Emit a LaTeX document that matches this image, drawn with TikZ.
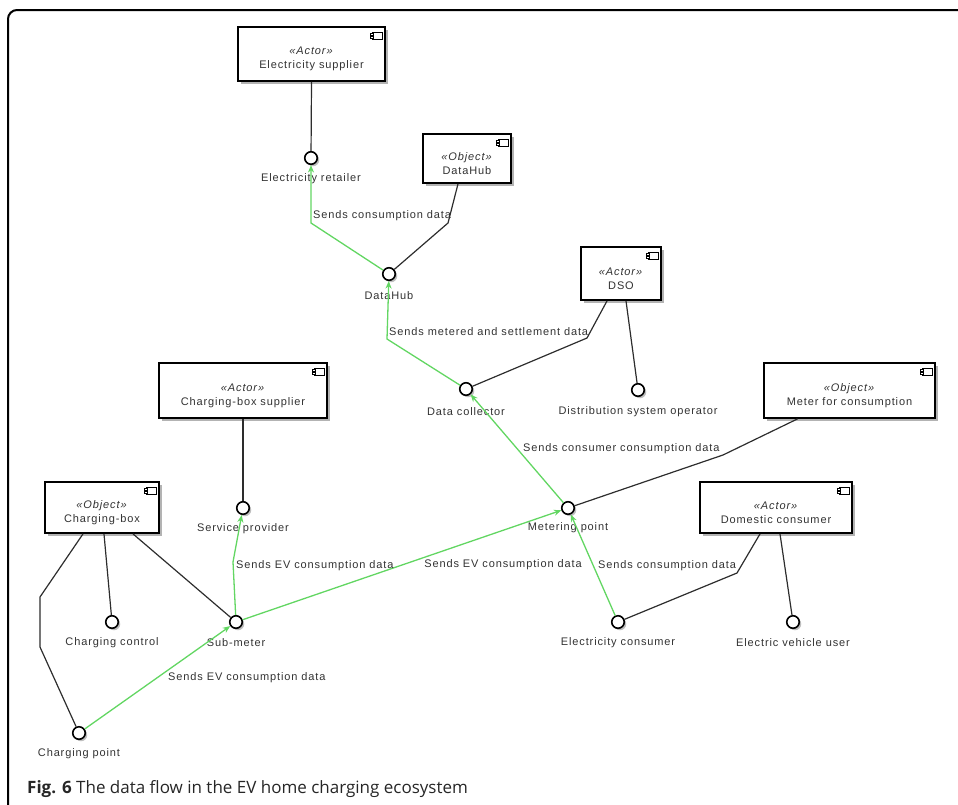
\documentclass[tikz,border=0pt]{standalone}
\usepackage{fontspec}
\setmainfont{Liberation Sans}
\newfontfamily\capfont{Open Sans}
\usetikzlibrary{arrows.meta,calc,fit,shadows}
\definecolor{flowgreen}{RGB}{98,214,98}
\definecolor{txtgray}{RGB}{50,50,50}
\definecolor{linegray}{RGB}{45,45,45}
\tikzset{
  cbox/.style={draw=black, line width=1.8pt, fill=white, inner sep=0pt,
    drop shadow={shadow xshift=2.5pt, shadow yshift=-2.5pt, fill=black!50, opacity=0.6}},
  boxtxt/.style={align=center, font=\fontsize{11}{14}\selectfont\addfontfeature{LetterSpace=8}, text=txtgray, inner sep=0pt},
  icon/.style={line width=1.1pt, draw=black},
  iface/.style={circle, draw=black, line width=1.6pt, fill=white, minimum size=12.5pt, inner sep=0pt,
    drop shadow={shadow xshift=2pt, shadow yshift=-2pt, fill=black!50, opacity=0.5}},
  lbl/.style={font=\fontsize{11}{14}\selectfont\addfontfeature{LetterSpace=8}, text=txtgray, inner sep=0pt},
  conn/.style={draw=linegray, line width=1.2pt},
  flow/.style={draw=flowgreen, line width=1.3pt, -{Stealth[length=7.5pt,width=6pt]}},
}
\newcommand\umlbox[7]{%
  \node[cbox, fit={(#2,#3) (#4,#5)}] (#1) {};
  \node[boxtxt] (#1t) at ($(#1.center)+(0,5)$) {\textit{«#6»}\\#7};
  \draw[icon, fill=white] ($(#1.north east)+(-13,6)$) rectangle ($(#1.north east)+(-3,13)$);
  \draw[icon, fill=white] ($(#1.north east)+(-15,7.3)$) rectangle ($(#1.north east)+(-12,9.3)$);
  \draw[icon, fill=white] ($(#1.north east)+(-15,10.3)$) rectangle ($(#1.north east)+(-12,12.3)$);
}
\begin{document}
\begin{tikzpicture}[x=1pt, y=-1pt]
\useasboundingbox (0,0) rectangle (958,804);
% frame
\draw[line width=2pt, rounded corners=9pt] (962,10) -- (8,10) -- (8,808);
% boxes
\umlbox{es}{238}{27}{385}{81}{Actor}{Electricity supplier}
\umlbox{dhb}{423}{134}{511}{183}{Object}{DataHub}
\umlbox{dsob}{581}{247}{661}{300}{Actor}{DSO}
\umlbox{cbs}{159}{363}{327}{418}{Actor}{Charging-box supplier}
\umlbox{mfc}{764}{363}{935}{418}{Object}{Meter for consumption}
\umlbox{cb}{45}{482}{159}{533}{Object}{Charging-box}
\umlbox{dcb}{700}{482}{852}{533}{Actor}{Domestic consumer}
% interfaces
\node[iface] (er) at (311,158) {};
\node[iface] (dh) at (389,274) {};
\node[iface] (dc) at (466,389) {};
\node[iface] (dso) at (638,390) {};
\node[iface] (sp) at (243,508) {};
\node[iface] (mp) at (568,508) {};
\node[iface] (cc) at (112,622) {};
\node[iface] (sm) at (236,622) {};
\node[iface] (ec) at (618,622) {};
\node[iface] (evu) at (793,622) {};
\node[iface] (cp) at (79,733) {};
% interface labels
\node[lbl] (erl) at (311,179) {Electricity retailer};
\node[lbl] (dhl) at (389,296) {DataHub};
\node[lbl] (dcl) at (466,412) {Data collector};
\node[lbl] (dsol) at (638,412) {Distribution system operator};
\node[lbl] (spl) at (243,529) {Service provider};
\node[lbl] (mpl) at (568,528) {Metering point};
\node[lbl] (ccl) at (112,643) {Charging control};
\node[lbl] (sml) at (236,643) {Sub-meter};
\node[lbl] (ecl) at (618,643) {Electricity consumer};
\node[lbl] (evul) at (793,643) {Electric vehicle user};
\node[lbl] (cpl) at (79,754) {Charging point};
% bend points
\coordinate (b1) at (311,223);
\coordinate (b2) at (448,223);
\coordinate (b3) at (387,339);
\coordinate (b4) at (587,338);
\coordinate (b5) at (723,455);
\coordinate (b6) at (737,573);
\coordinate (b7) at (233,562);
\coordinate (b8) at (40,597);
\coordinate (b9) at (40,647);
% structural connectors
\draw[conn] (es.south) -- (er);
\draw[conn] ($(dhb.south)+(-9,0)$) -- (b2) -- (dh);
\draw[conn] ($(dsob.south)+(-14,0)$) -- (b4) -- (dc);
\draw[conn] ($(dsob.south)+(5,0)$) -- (dso);
\draw[conn] (cbs.south -| sp) -- (sp);
\draw[conn] ($(mfc.south)+(-52,0)$) -- (b5) -- (mp);
\draw[conn] ($(dcb.south)+(-16,0)$) -- (b6) -- (ec);
\draw[conn] ($(dcb.south)+(4,0)$) -- (evu);
\draw[conn] ($(cb.south)+(-19,0)$) -- (b8) -- (b9) -- (cp);
\draw[conn] ($(cb.south)+(2,0)$) -- (cc);
\draw[conn] ($(cb.south)+(31,0)$) -- (sm);
% data flows
\draw[flow] (dh) -- (b1) -- (er);
\draw[flow] (dc) -- (b3) -- (dh);
\draw[flow] (mp) -- (dc);
\draw[flow] (sm) -- (mp);
\draw[flow] (ec) -- (mp);
\draw[flow] (sm) -- (b7) -- (sp);
\draw[flow] (cp) -- (sm);
% flow labels
\node[lbl, anchor=west] (f1) at (313,216) {Sends consumption data};
\node[lbl, anchor=west] (f2) at (389,332) {Sends metered and settlement data};
\node[lbl, anchor=west] (f3) at (523,449) {Sends consumer consumption data};
\node[lbl] (f4) at (503,565) {Sends EV consumption data};
\node[lbl, anchor=west] (f5) at (598,566) {Sends consumption data};
\node[lbl, anchor=west] (f6) at (236,566) {Sends EV consumption data};
\node[lbl, anchor=west] (f7) at (168,678) {Sends EV consumption data};
% caption
\node[anchor=base west, inner sep=0pt, font=\capfont\fontsize{17}{20}\selectfont, text=black!85] (cap) at (27,793) {\textbf{Fig. 6} The data flow in the EV home charging ecosystem};
\end{tikzpicture}
\end{document}
